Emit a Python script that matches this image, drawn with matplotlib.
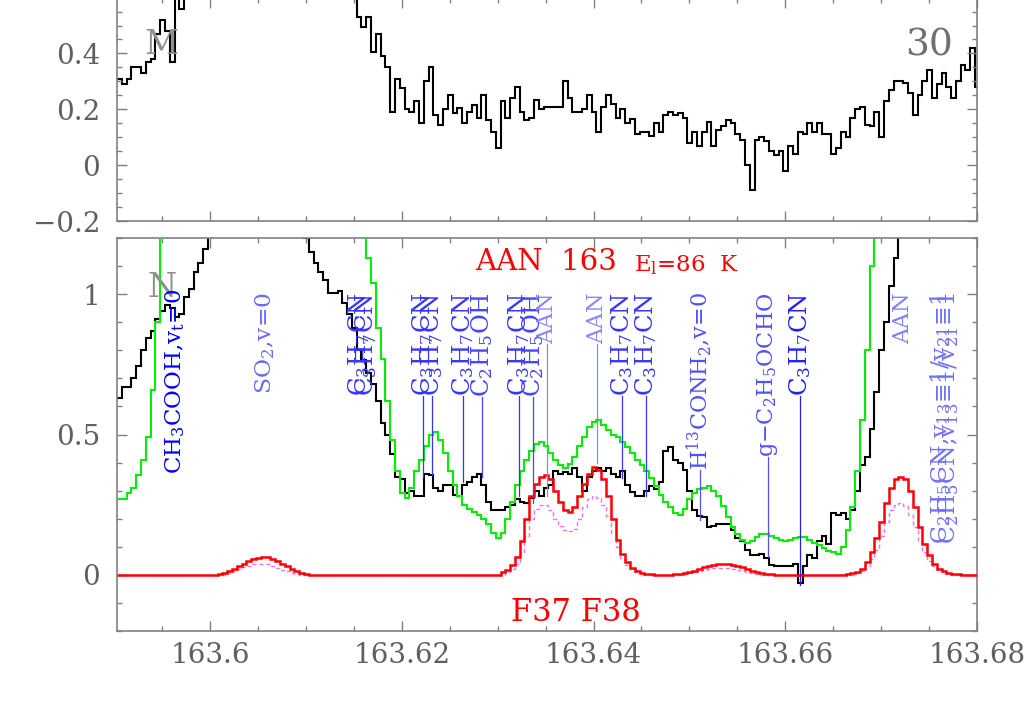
import numpy as np
import matplotlib

matplotlib.use("Agg")
import matplotlib.pyplot as plt  # noqa: E402
from matplotlib.ticker import FixedLocator, MultipleLocator, FuncFormatter  # noqa: E402

plt.rcParams['font.family'] = 'DejaVu Serif'
plt.rcParams['mathtext.fontset'] = 'dejavuserif'

# channel grid (GHz)
F0 = 163.59055
DF = 0.0005
N_CHAN = 180

# top panel: observed spectrum (clipped above 0.6)
top_obs = [
    0.31, 0.29, 0.31, 0.35, 0.35, 0.33, 0.37, 0.38, 0.47, 0.52,
    0.48, 0.37, 0.75, 0.56, 0.66, 0.72, 0.80, 0.88, 0.95, 1.02,
    1.08, 1.15, 1.20, 1.24, 1.28, 1.30, 1.31, 1.30, 1.28, 1.25,
    1.22, 1.18, 1.15, 1.12, 1.10, 1.07, 1.04, 1.00, 0.97, 0.93,
    0.90, 0.86, 0.82, 0.78, 0.75, 0.72, 0.69, 0.66, 0.63, 0.61,
    0.53, 0.495, 0.53, 0.405, 0.47, 0.39, 0.35, 0.19, 0.31, 0.275,
    0.20, 0.19, 0.23, 0.15, 0.30, 0.35, 0.18, 0.145, 0.20, 0.25,
    0.185, 0.205, 0.15, 0.19, 0.215, 0.17, 0.25, 0.16, 0.12, 0.06,
    0.23, 0.17, 0.24, 0.28, 0.19, 0.16, 0.17, 0.235, 0.20, 0.21,
    0.21, 0.21, 0.21, 0.30, 0.24, 0.19, 0.19, 0.20, 0.25, 0.19,
    0.12, 0.21, 0.25, 0.22, 0.17, 0.20, 0.15, 0.165, 0.11, 0.12,
    0.12, 0.105, 0.15, 0.12, 0.18, 0.19, 0.18, 0.185, 0.17, 0.08,
    0.12, 0.07, 0.12, 0.155, 0.07, 0.125, 0.14, 0.16, 0.15, 0.11,
    0.09, 0.0, -0.09, 0.09, 0.10, 0.085, 0.05, 0.035, 0.05, -0.02,
    0.07, 0.04, 0.12, 0.11, 0.15, 0.12, 0.15, 0.11, 0.11, 0.04,
    0.06, 0.12, 0.10, 0.17, 0.20, 0.21, 0.145, 0.14, 0.19, 0.10,
    0.23, 0.27, 0.30, 0.30, 0.295, 0.26, 0.18, 0.25, 0.30, 0.34,
    0.24, 0.29, 0.33, 0.28, 0.24, 0.30, 0.36, 0.34, 0.42, 0.28,
]

# bottom panel: observed spectrum
obs = [
    0.63, 0.67, 0.67, 0.70, 0.745, 0.80, 0.845, 0.87, 0.91, 0.94,
    0.96, 0.95, 0.92, 0.93, 0.99, 1.02, 1.08, 1.11, 1.16, 1.22,
    1.26, 1.30, 1.34, 1.38, 1.41, 1.43, 1.45, 1.46, 1.46, 1.45,
    1.44, 1.42, 1.40, 1.37, 1.34, 1.31, 1.28, 1.25, 1.22, 1.20,
    1.15, 1.11, 1.08, 1.05, 1.005, 1.005, 1.01, 0.97, 0.93, 0.88,
    0.80, 0.765, 0.72, 0.68, 0.62, 0.54, 0.50, 0.43, 0.35, 0.34,
    0.29, 0.30, 0.28, 0.28, 0.36, 0.355, 0.31, 0.30, 0.32, 0.32,
    0.285, 0.28, 0.32, 0.33, 0.35, 0.36, 0.32, 0.26, 0.23, 0.23,
    0.23, 0.24, 0.25, 0.27, 0.26, 0.255, 0.275, 0.30, 0.28, 0.31,
    0.32, 0.37, 0.36, 0.365, 0.36, 0.38, 0.35, 0.30, 0.35, 0.37,
    0.38, 0.37, 0.38, 0.36, 0.35, 0.37, 0.32, 0.295, 0.28, 0.28,
    0.30, 0.315, 0.305, 0.33, 0.44, 0.455, 0.41, 0.40, 0.375, 0.30,
    0.23, 0.21, 0.205, 0.17, 0.175, 0.18, 0.18, 0.18, 0.16, 0.13,
    0.12, 0.09, 0.07, 0.07, 0.075, 0.06, 0.035, 0.03, 0.03, 0.03,
    0.03, 0.04, -0.03, 0.03, 0.07, 0.06, 0.12, 0.14, 0.11, 0.22,
    0.215, 0.22, 0.20, 0.23, 0.30, 0.39, 0.42, 0.52, 0.65, 0.80,
    0.90, 1.03, 1.13, 1.22, 1.30, 1.38, 1.46, 1.54, 1.60, 1.65,
    1.68, 1.70, 1.70, 1.68, 1.65, 1.60, 1.55, 1.50, 1.45, 1.40,
]

# full model, all species (green)
model_all = [
    0.27, 0.27, 0.29, 0.31, 0.355, 0.41, 0.49, 0.66, 0.90, 1.35,
    1.6, 1.85, 2.05, 2.2, 2.3, 2.35, 2.35, 2.3, 2.25, 2.2,
    2.15, 2.1, 2.1, 2.1, 2.15, 2.2, 2.25, 2.3, 2.35, 2.4,
    2.4, 2.4, 2.35, 2.3, 2.25, 2.2, 2.1, 2.0, 1.95, 1.9,
    1.85, 1.8, 1.75, 1.7, 1.65, 1.6, 1.55, 1.5, 1.45, 1.4,
    1.32, 1.25, 1.13, 1.04, 0.88, 0.77, 0.62, 0.48, 0.37, 0.29,
    0.275, 0.31, 0.37, 0.41, 0.46, 0.50, 0.51, 0.48, 0.435, 0.37,
    0.32, 0.28, 0.25, 0.235, 0.225, 0.215, 0.20, 0.18, 0.15, 0.13,
    0.15, 0.20, 0.26, 0.32, 0.37, 0.41, 0.44, 0.465, 0.475, 0.46,
    0.435, 0.41, 0.39, 0.38, 0.395, 0.42, 0.46, 0.49, 0.525, 0.545,
    0.55, 0.535, 0.515, 0.50, 0.49, 0.475, 0.455, 0.435, 0.41, 0.39,
    0.37, 0.345, 0.315, 0.285, 0.26, 0.24, 0.22, 0.215, 0.235, 0.27,
    0.29, 0.305, 0.31, 0.315, 0.30, 0.28, 0.245, 0.205, 0.17, 0.145,
    0.125, 0.115, 0.12, 0.135, 0.145, 0.145, 0.14, 0.13, 0.125, 0.12,
    0.125, 0.13, 0.135, 0.135, 0.125, 0.115, 0.105, 0.095, 0.085, 0.08,
    0.075, 0.10, 0.16, 0.24, 0.37, 0.55, 0.80, 1.10, 1.4, 1.7,
    2.0, 2.3, 2.5, 2.7, 2.8, 2.9, 2.9, 2.85, 2.8, 2.7,
    2.6, 2.5, 2.4, 2.3, 2.2, 2.1, 2.0, 1.9, 1.8, 1.7,
]

# AAN model (red) and optically thin AAN model (magenta), non-zero stretches
# keyed by the centre frequency of their first channel
aan_model = {
    163.60105: [0.003, 0.006, 0.012, 0.02, 0.03, 0.04, 0.05, 0.057, 0.06, 0.062,
                0.062, 0.058, 0.05, 0.04, 0.03, 0.02, 0.012, 0.006, 0.003],
    163.63055: [0.01, 0.016, 0.035, 0.065, 0.12, 0.20, 0.28, 0.325, 0.35, 0.355,
                0.34, 0.30, 0.26, 0.23, 0.225, 0.24, 0.28, 0.325, 0.36, 0.385,
                0.375, 0.34, 0.28, 0.20, 0.125, 0.075, 0.045, 0.025, 0.015, 0.008,
                0.004, 0.002],
    163.64855: [0.002, 0.003, 0.006, 0.01, 0.015, 0.021, 0.027, 0.032, 0.035, 0.037,
                0.038, 0.038, 0.036, 0.032, 0.027, 0.021, 0.015, 0.01, 0.006, 0.003,
                0.002],
    163.66655: [0.002, 0.005, 0.01, 0.022, 0.045, 0.08, 0.13, 0.19, 0.255, 0.31,
                0.34, 0.35, 0.34, 0.30, 0.24, 0.17, 0.11, 0.07, 0.04, 0.022,
                0.012, 0.006, 0.003, 0.002],
}
aan_thin = {
    163.60205: [0.006, 0.012, 0.02, 0.027, 0.033, 0.037, 0.04, 0.04, 0.038, 0.033,
                0.026, 0.019, 0.012, 0.007, 0.003],
    163.63105: [0.01, 0.02, 0.04, 0.08, 0.14, 0.20, 0.235, 0.25, 0.25, 0.23,
                0.20, 0.175, 0.16, 0.155, 0.165, 0.20, 0.24, 0.27, 0.28, 0.275,
                0.25, 0.21, 0.15, 0.10, 0.06, 0.035, 0.02, 0.01, 0.005],
    163.64955: [0.003, 0.006, 0.01, 0.014, 0.018, 0.022, 0.024, 0.025, 0.025, 0.024,
                0.021, 0.017, 0.013, 0.009, 0.005, 0.003],
    163.66755: [0.006, 0.015, 0.03, 0.055, 0.09, 0.14, 0.19, 0.23, 0.25, 0.255,
                0.245, 0.215, 0.17, 0.12, 0.08, 0.05, 0.03, 0.016, 0.008, 0.004],
}

# line identifications
C3H7CN = r"C$_3$H$_7$CN"
C2H5OH = r"C$_2$H$_5$OH"
C2H5CN = r"C$_2$H$_5$CN,v$_{13}$=1/v$_{21}$=1"
line_freqs = [163.59635, 163.60574, 163.61554, 163.61627, 163.62222, 163.62316,
              163.62639, 163.62837, 163.63223, 163.63369, 163.63515, 163.64037,
              163.64298, 163.64548, 163.65111, 163.65820, 163.66154, 163.67229,
              163.67625, 163.67708]
line_names = [r"CH$_3$COOH,v$_\mathrm{t}$=0", r"SO$_2$,v=0", C3H7CN, C3H7CN,
              C3H7CN, C3H7CN, C3H7CN, C2H5OH, C3H7CN, C2H5OH, "AAN", "AAN",
              C3H7CN, C3H7CN, r"H$^{13}$CONH$_2$,v=0", r"g$-$C$_2$H$_5$OCHO",
              C3H7CN, "AAN", C2H5CN, C2H5CN]
line_sizes = [16.5, 16.8, 17.5, 17.5, 17.5, 17.5, 17.5, 17.5, 17.5, 17.5, 16, 16,
              17.5, 17.5, 16, 16, 17.5, 16, 16.8, 16.8]
line_ends = [None, None, None, None, 0.35, 0.357, 0.33, 0.35, 0.28, 0.257,
             0.28, 0.40, 0.345, 0.28, 0.196, 0.064, -0.036, None, None, None]
line_colors = ["#0000ff", "#6a6aff", "#3535ff", "#3535ff", "#3535ff", "#3535ff",
               "#3535ff", "#4545ff", "#3535ff", "#4545ff", "#8888ff", "#8888ff",
               "#3535ff", "#3535ff", "#5050ff", "#5050ff", "#2020ff", "#8080ff",
               "#7070ff", "#7070ff"]

GREY = "#707070"


def from_segments(segs):
    y = np.zeros(N_CHAN)
    for f_start, vals in segs.items():
        i0 = int(round((f_start - F0) / DF))
        y[i0:i0 + len(vals)] = vals
    return y


def fmt_num(v, pos):
    s = f"{v:.2f}".rstrip("0").rstrip(".")
    if s in ("-0", ""):
        s = "0"
    return s.replace("-", "\u2212")


def style_axis(ax):
    for sp in ax.spines.values():
        sp.set_color("#808080")
        sp.set_linewidth(1.2)
    ax.tick_params(which="both", direction="in", top=True, right=True,
                   color="#808080", width=1.0, labelcolor="#606060",
                   labelsize=20)
    ax.tick_params(which="major", length=7.5)
    ax.tick_params(which="minor", length=3.8)
    ax.tick_params(axis="y", pad=12)
    ax.tick_params(axis="x", pad=8)
    ax.xaxis.set_major_locator(MultipleLocator(0.02))
    ax.xaxis.set_minor_locator(MultipleLocator(0.005))
    ax.xaxis.set_major_formatter(FuncFormatter(fmt_num))
    ax.yaxis.set_major_formatter(FuncFormatter(fmt_num))
    ax.set_xlim(F0 - DF / 2, 163.68)


edges = F0 - DF / 2 + DF * np.arange(N_CHAN + 1)

fig = plt.figure(figsize=(10.25, 7.17), dpi=100)
ax_top = fig.add_axes([0.11415, 0.69177, 0.83902, 0.31158])
ax_bot = fig.add_axes([0.11415, 0.11994, 0.83902, 0.54812])

# ---- top panel
ax_top.stairs(top_obs, edges, baseline=None, color="black", lw=1.5)
style_axis(ax_top)
ax_top.set_ylim(-0.2, 0.6)
ax_top.yaxis.set_major_locator(FixedLocator([-0.2, 0.0, 0.2, 0.4]))
ax_top.yaxis.set_minor_locator(MultipleLocator(0.05))
ax_top.tick_params(labelbottom=False)
ax_top.text(163.59495, 0.43, "M", color="#909090", fontsize=24,
            ha="center", va="center")
ax_top.text(163.67495, 0.43, "30", color=GREY, fontsize=27,
            ha="center", va="center")

# ---- bottom panel
ax_bot.stairs(obs, edges, baseline=None, color="black", lw=1.5, zorder=2)
ax_bot.stairs(model_all, edges, baseline=None, color="#00ee00", lw=1.5, zorder=3)
ax_bot.stairs(from_segments(aan_thin), edges, baseline=None, color="#ee77ee",
              lw=1.0, ls=(0, (3, 2)), zorder=4)
ax_bot.stairs(from_segments(aan_model), edges, baseline=None, color="#ff0000",
              lw=1.8, zorder=5)
style_axis(ax_bot)
ax_bot.set_ylim(-0.2, 1.2)
ax_bot.yaxis.set_major_locator(FixedLocator([0.0, 0.5, 1.0]))
ax_bot.yaxis.set_minor_locator(MultipleLocator(0.1))

ax_bot.text(163.59495, 1.022, "N", color="#909090", fontsize=24,
            ha="center", va="center")
ax_bot.text(163.63505, 1.086, "AAN  163", color="red", fontsize=21,
            ha="center", va="baseline")
ax_bot.text(163.64423, 1.082, r"E$_\mathrm{l}$=86  K", color="red", fontsize=16.5,
            ha="left", va="baseline")
ax_bot.text(163.63812, -0.135, "F37 F38", color="red", fontsize=22,
            ha="center", va="center")

labels = []
for f, name, col, size in zip(line_freqs, line_names, line_colors, line_sizes):
    big = name.startswith("CH$_3$")
    t = ax_bot.text(f, 1.018 if big else 1.007, name, rotation=90,
                    color=col, fontsize=size,
                    ha="center", va="top", zorder=6)
    labels.append(t)

fig.canvas.draw()
renderer = fig.canvas.get_renderer()
inv = ax_bot.transData.inverted()
for t, f, end, col in zip(labels, line_freqs, line_ends, line_colors):
    if end is None:
        continue
    bb = t.get_window_extent(renderer)
    y_low = inv.transform((bb.x0, bb.y0))[1]
    ax_bot.plot([f, f], [y_low, end], color=col, lw=0.9, zorder=6)

fig.savefig("out.png", dpi=100)
